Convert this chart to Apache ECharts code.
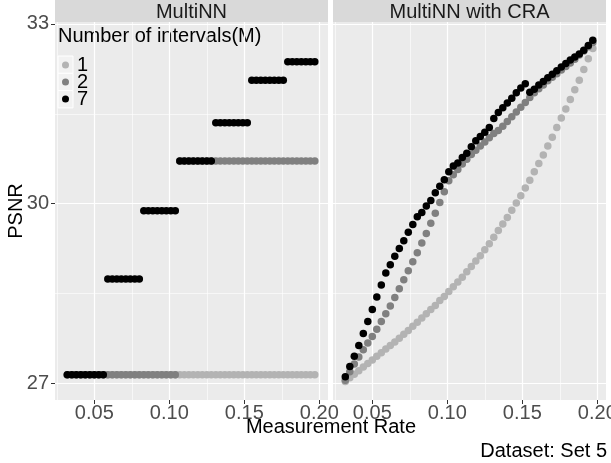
<!DOCTYPE html>
<html>
<head>
<meta charset="utf-8">
<script src="https://cdn.jsdelivr.net/npm/echarts@6/dist/echarts.min.js"></script>
<style>
html, body { margin: 0; padding: 0; background: #fff; }
#chart { width: 611px; height: 463px; }
</style>
</head>
<body>
<div id="chart"></div>
<script>
// measurement rates (x values shared by every series)
var rate = [0.032, 0.035, 0.038, 0.041, 0.044, 0.047, 0.050, 0.053, 0.056, 0.059,
            0.062, 0.065, 0.068, 0.071, 0.074, 0.077, 0.080, 0.083, 0.086, 0.089,
            0.092, 0.095, 0.098, 0.101, 0.104, 0.107, 0.110, 0.113, 0.116, 0.119,
            0.122, 0.125, 0.128, 0.131, 0.134, 0.137, 0.140, 0.143, 0.146, 0.149,
            0.152, 0.155, 0.158, 0.161, 0.164, 0.167, 0.170, 0.173, 0.176, 0.179,
            0.182, 0.185, 0.188, 0.191, 0.194, 0.197];

// panel "MultiNN"
var multiNN_M1 = [27.14, 27.14, 27.14, 27.14, 27.14, 27.14, 27.14, 27.14, 27.14, 27.14,
                  27.14, 27.14, 27.14, 27.14, 27.14, 27.14, 27.14, 27.14, 27.14, 27.14,
                  27.14, 27.14, 27.14, 27.14, 27.14, 27.14, 27.14, 27.14, 27.14, 27.14,
                  27.14, 27.14, 27.14, 27.14, 27.14, 27.14, 27.14, 27.14, 27.14, 27.14,
                  27.14, 27.14, 27.14, 27.14, 27.14, 27.14, 27.14, 27.14, 27.14, 27.14,
                  27.14, 27.14, 27.14, 27.14, 27.14, 27.14];
var multiNN_M2 = [27.14, 27.14, 27.14, 27.14, 27.14, 27.14, 27.14, 27.14, 27.14, 27.14,
                  27.14, 27.14, 27.14, 27.14, 27.14, 27.14, 27.14, 27.14, 27.14, 27.14,
                  27.14, 27.14, 27.14, 27.14, 27.14, 30.71, 30.71, 30.71, 30.71, 30.71,
                  30.71, 30.71, 30.71, 30.71, 30.71, 30.71, 30.71, 30.71, 30.71, 30.71,
                  30.71, 30.71, 30.71, 30.71, 30.71, 30.71, 30.71, 30.71, 30.71, 30.71,
                  30.71, 30.71, 30.71, 30.71, 30.71, 30.71];
var multiNN_M7 = [27.14, 27.14, 27.14, 27.14, 27.14, 27.14, 27.14, 27.14, 27.14, 28.74,
                  28.74, 28.74, 28.74, 28.74, 28.74, 28.74, 28.74, 29.88, 29.88, 29.88,
                  29.88, 29.88, 29.88, 29.88, 29.88, 30.71, 30.71, 30.71, 30.71, 30.71,
                  30.71, 30.71, 30.71, 31.35, 31.35, 31.35, 31.35, 31.35, 31.35, 31.35,
                  31.35, 32.06, 32.06, 32.06, 32.06, 32.06, 32.06, 32.06, 32.06, 32.37,
                  32.37, 32.37, 32.37, 32.37, 32.37, 32.37];

// panel "MultiNN with CRA"
var cra_M1 = [27.03, 27.09, 27.15, 27.21, 27.27, 27.33, 27.39, 27.45, 27.51, 27.57,
              27.63, 27.69, 27.75, 27.82, 27.88, 27.95, 28.02, 28.09, 28.16, 28.23,
              28.30, 28.38, 28.45, 28.53, 28.61, 28.69, 28.77, 28.86, 28.95, 29.04,
              29.13, 29.23, 29.33, 29.44, 29.55, 29.66, 29.77, 29.89, 30.01, 30.13,
              30.26, 30.39, 30.53, 30.67, 30.81, 30.96, 31.11, 31.27, 31.43, 31.58,
              31.74, 31.90, 32.06, 32.24, 32.42, 32.59];
var cra_M2 = [27.05, 27.19, 27.32, 27.44, 27.56, 27.67, 27.78, 27.90, 28.03, 28.16,
              28.29, 28.43, 28.58, 28.73, 28.88, 29.03, 29.18, 29.34, 29.50, 29.67,
              29.84, 30.02, 30.20, 30.38, 30.48, 30.57, 30.66, 30.74, 30.82, 30.89,
              30.96, 31.03, 31.10, 31.17, 31.22, 31.29, 31.37, 31.45, 31.53, 31.61,
              31.69, 31.77, 31.85, 31.92, 31.98, 32.05, 32.11, 32.17, 32.23, 32.29,
              32.35, 32.41, 32.48, 32.55, 32.62, 32.69];
var cra_M7 = [27.11, 27.28, 27.45, 27.63, 27.83, 28.03, 28.23, 28.44, 28.64, 28.84,
              28.98, 29.12, 29.25, 29.38, 29.52, 29.65, 29.78, 29.85, 29.96, 30.05,
              30.18, 30.29, 30.40, 30.53, 30.63, 30.68, 30.77, 30.84, 30.95, 31.05,
              31.12, 31.19, 31.27, 31.42, 31.52, 31.60, 31.68, 31.76, 31.85, 31.93,
              32.00, 31.86, 31.91, 31.98, 32.04, 32.10, 32.16, 32.22, 32.28, 32.34,
              32.40, 32.45, 32.50, 32.56, 32.64, 32.73];

var panelTitles = ['MultiNN', 'MultiNN with CRA'];
var intervalNames = ['1', '2', '7'];
var xMajor = [0.05, 0.10, 0.15, 0.20];
var xMinor = [0.025, 0.075, 0.125, 0.175];
var yMajor = [27, 30, 33];
var yMinor = [28.5, 31.5];

var colors = ['#b3b3b3', '#808080', '#000000'];
var FONT = '"Liberation Sans", Arial, Helvetica, sans-serif';
var xMin = 0.0238, xMax = 0.2058;
var yMin = 26.72, yMax = 33.033;

var panels = [
    { left: 55, series: [multiNN_M1, multiNN_M2, multiNN_M7] },
    { left: 333, series: [cra_M1, cra_M2, cra_M7] }
];
var PW = 273, PT = 22, PH = 378;

var chart = echarts.init(document.getElementById('chart'));

function pairs(vals) {
    return rate.map(function (r, i) { return [r, vals[i]]; });
}

var grids = [], xAxes = [], yAxes = [], series = [], graphics = [];

panels.forEach(function (p, g) {
    grids.push({
        left: p.left, top: PT, width: PW, height: PH,
        show: true, backgroundColor: '#ebebeb', borderWidth: 0,
        containLabel: false, outerBoundsMode: 'none'
    });
    // major x
    xAxes.push({
        type: 'value', gridIndex: g, min: xMin, max: xMax, position: 'bottom',
        axisLine: { show: false, onZero: false },
        axisTick: { show: true, length: 4, lineStyle: { color: '#333333', width: 1 }, customValues: xMajor },
        axisLabel: {
            customValues: xMajor, color: '#4d4d4d', fontSize: 20, fontFamily: FONT, margin: 3,
            formatter: function (v) { return v.toFixed(2); }
        },
        splitLine: { show: true, lineStyle: { color: '#ffffff', width: 1.2 } }
    });
    // major y
    yAxes.push({
        type: 'value', gridIndex: g, min: yMin, max: yMax, position: 'left',
        axisLine: { show: false, onZero: false },
        axisTick: { show: g === 0, length: 4, lineStyle: { color: '#333333', width: 1 }, customValues: yMajor },
        axisLabel: {
            show: g === 0, customValues: yMajor, color: '#4d4d4d', fontSize: 20, fontFamily: FONT, margin: 6,
            formatter: function (v) { return String(Math.round(v)); }
        },
        splitLine: { show: true, lineStyle: { color: '#ffffff', width: 1.2 } }
    });
});

panels.forEach(function (p, g) {
    // minor grid lines
    xAxes.push({
        type: 'value', gridIndex: g, min: xMin, max: xMax, position: 'bottom',
        axisLine: { show: false, onZero: false },
        axisTick: { show: false, customValues: xMinor },
        axisLabel: { show: false, customValues: xMinor },
        splitLine: { show: true, lineStyle: { color: '#ffffff', width: 0.6 } }
    });
    yAxes.push({
        type: 'value', gridIndex: g, min: yMin, max: yMax, position: 'left',
        axisLine: { show: false, onZero: false },
        axisTick: { show: false, customValues: yMinor },
        axisLabel: { show: false, customValues: yMinor },
        splitLine: { show: true, lineStyle: { color: '#ffffff', width: 0.6 } }
    });

    p.series.forEach(function (vals, k) {
        series.push({
            name: intervalNames[k],
            type: 'scatter',
            xAxisIndex: g, yAxisIndex: g,
            data: pairs(vals),
            symbol: 'circle', symbolSize: 7.5,
            itemStyle: { color: colors[k], opacity: 1 },
            z: 2 + k,
            silent: true
        });
    });

    // facet strip
    graphics.push({
        type: 'rect', shape: { x: p.left, y: 0, width: PW, height: PT },
        style: { fill: '#d9d9d9' }
    });
    graphics.push({
        type: 'text', x: p.left + PW / 2, y: 12,
        style: { text: panelTitles[g], fill: '#1a1a1a', font: '20px ' + FONT, align: 'center', verticalAlign: 'middle' }
    });
});

// legend key boxes
intervalNames.forEach(function (n, i) {
    graphics.push({
        type: 'rect', z: 1, shape: { x: 58, y: 56 + 17.3 * i, width: 15, height: 17.3 },
        style: { fill: '#f2f2f2', stroke: '#ffffff', lineWidth: 1 }
    });
});

graphics.push({
    type: 'text', x: 58, y: 36,
    style: { text: 'Number of intervals(M)', fill: '#000000', font: '20px ' + FONT, align: 'left', verticalAlign: 'middle' }
});
graphics.push({
    type: 'text', x: 331, y: 427,
    style: { text: 'Measurement Rate', fill: '#000000', font: '20px ' + FONT, align: 'center', verticalAlign: 'middle' }
});
graphics.push({
    type: 'text', x: 16, y: 211, rotation: Math.PI / 2,
    style: { text: 'PSNR', fill: '#000000', font: '20px ' + FONT, align: 'center', verticalAlign: 'middle' }
});
graphics.push({
    type: 'text', x: 607, y: 451,
    style: { text: 'Dataset: Set 5', fill: '#000000', font: '20px ' + FONT, align: 'right', verticalAlign: 'middle' }
});

var option = {
    animation: false,
    backgroundColor: '#ffffff',
    grid: grids,
    xAxis: xAxes,
    yAxis: yAxes,
    legend: {
        data: intervalNames,
        orient: 'vertical',
        left: 62, top: 55,
        padding: 0, itemGap: -3,
        itemWidth: 13, itemHeight: 7,
        icon: 'circle',
        selectedMode: false,
        textStyle: { color: '#000000', fontSize: 20, fontFamily: FONT, lineHeight: 17.5 }
    },
    graphic: graphics,
    series: series
};

chart.setOption(option);
</script>
</body>
</html>
